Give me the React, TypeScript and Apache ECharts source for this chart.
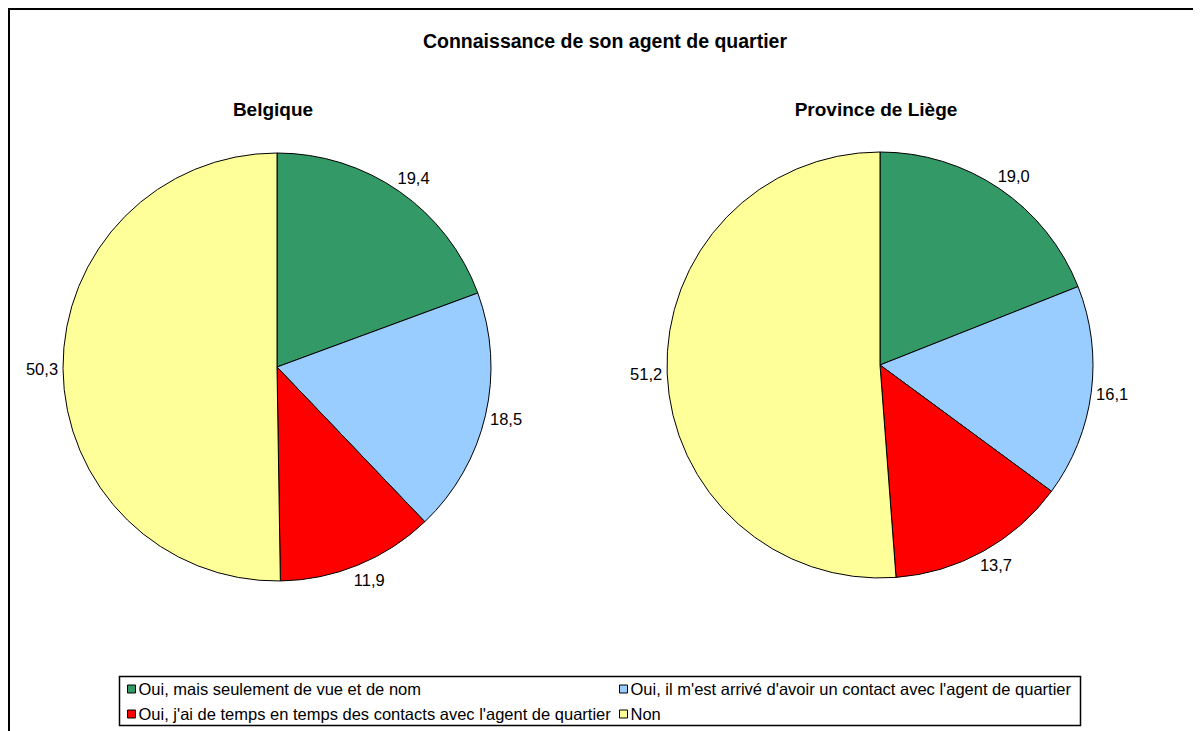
import React, { useEffect, useRef } from 'react';
import * as echarts from 'echarts';

const mainTitle = 'Connaissance de son agent de quartier';
const pieTitles = ['Belgique', 'Province de Liège'];
const categories = [
  'Oui, mais seulement de vue et de nom',
  "Oui, il m'est arrivé d'avoir un contact avec l'agent de quartier",
  "Oui, j'ai de temps en temps des contacts avec l'agent de quartier",
  'Non',
];
const belgique = [19.4, 18.5, 11.9, 50.3];
const liege = [19.0, 16.1, 13.7, 51.2];
const colors = ['#339966', '#99CCFF', '#FF0000', '#FFFF99'];

const FONT = "'Liberation Sans', Arial, sans-serif";

function makePie(values: number[], center: number[], radius: number) {
  return {
    type: 'pie',
    center,
    radius,
    startAngle: 90,
    clockwise: true,
    avoidLabelOverlap: false,
    itemStyle: { borderColor: '#000', borderWidth: 1 },
    emphasis: { disabled: true },
    label: {
      show: true,
      position: 'outside',
      color: '#000',
      fontFamily: FONT,
      fontSize: 16.5,
      formatter: (p: any) => Number(p.value).toFixed(1).replace('.', ','),
    },
    labelLine: { show: false, length: 16, length2: 0 },
    labelLayout: { align: 'center' },
    data: values.map((v, i) => ({ name: categories[i], value: v, itemStyle: { color: colors[i] } })),
  };
}

export default function App() {
  const ref = useRef<HTMLDivElement>(null);
  useEffect(() => {
    if (!ref.current) return;
    const chart = echarts.init(ref.current, undefined, { renderer: 'svg' });
    const legendCommon = {
      orient: 'vertical',
      padding: 0,
      itemWidth: 8,
      itemHeight: 8,
      itemGap: 6,
      icon: 'rect',
      selectedMode: false,
      itemStyle: { borderColor: '#000', borderWidth: 1 },
      textStyle: { fontFamily: FONT, fontSize: 16.5, color: '#000', lineHeight: 19, padding: [0, 0, 0, -2] },
      top: 671.5,
    };
    const titleStyle = (size: number) => ({ fontFamily: FONT, fontSize: size, fontWeight: 'bold', color: '#000' });
    chart.setOption({
      animation: false,
      backgroundColor: '#fff',
      color: colors,
      title: [
        { text: mainTitle, left: 597, top: 23, textAlign: 'center', padding: 0, textStyle: titleStyle(19.5) },
        { text: pieTitles[0], left: 265, top: 92, textAlign: 'center', padding: 0, textStyle: titleStyle(19) },
        { text: pieTitles[1], left: 868, top: 92, textAlign: 'center', padding: 0, textStyle: titleStyle(19) },
      ],
      legend: [
        { ...legendCommon, left: 119, data: [categories[0], categories[2]] },
        { ...legendCommon, left: 611, data: [categories[1], categories[3]] },
      ],
      graphic: [
        { type: 'rect', shape: { x: 1, y: 1, width: 1400, height: 1000 }, style: { fill: 'none', stroke: '#000', lineWidth: 2 }, silent: true },
        { type: 'rect', shape: { x: 111.5, y: 668.5, width: 961, height: 49 }, style: { fill: 'none', stroke: '#000', lineWidth: 1.5 }, silent: true },
      ],
      series: [
        makePie(belgique, [269, 359], 214),
        makePie(liege, [872, 357], 213),
      ],
    });
    return () => chart.dispose();
  }, []);
  return <div ref={ref} style={{ width: 1193, height: 723 }} />;
}
